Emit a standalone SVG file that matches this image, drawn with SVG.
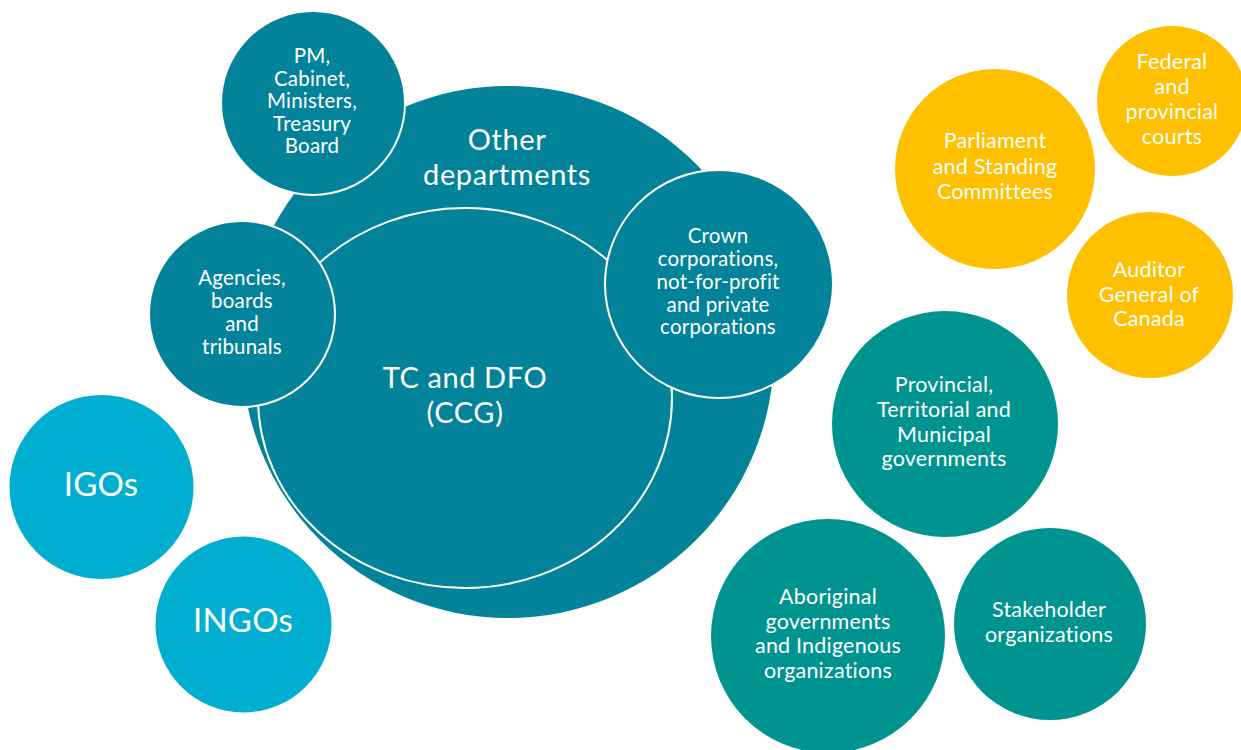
<svg xmlns="http://www.w3.org/2000/svg" width="1241" height="750" viewBox="0 0 1241 750">
<style>
.dk{fill:#03839A}
.gr{fill:#009491}
.yl{fill:#FFC000}
.lb{fill:#00AFCF}
.ws{stroke:#FFFFFF;stroke-width:2}
text{font-family:Lato,"Liberation Sans",sans-serif;fill:#FFFFFF;text-anchor:middle;letter-spacing:0.2px}
.s{font-size:20.5px}
.m{font-size:21.5px}
.l{font-size:29px;letter-spacing:0.6px}
.xl{font-size:33px}
</style>
<rect width="1241" height="750" fill="#FFFFFF"/>
<g id="other-departments">
<circle class="dk" cx="508" cy="352" r="266"/>
<text class="l" x="507" y="150">Other</text>
<text class="l" x="507" y="185">departments</text>
</g>
<g id="tc-dfo">
<ellipse class="dk ws" cx="465" cy="398" rx="207" ry="190"/>
<text class="l" x="465" y="388">TC and DFO</text>
<text class="l" x="465" y="423">(CCG)</text>
</g>
<g id="agencies">
<circle class="dk ws" cx="242" cy="314" r="93"/>
<text class="s" x="242" y="285">Agencies,</text>
<text class="s" x="242" y="308">boards</text>
<text class="s" x="242" y="331">and</text>
<text class="s" x="242" y="354">tribunals</text>
</g>
<g id="crown">
<circle class="dk ws" cx="719" cy="284" r="114"/>
<text class="s" x="718" y="243">Crown</text>
<text class="s" x="718" y="266">corporations,</text>
<text class="s" x="718" y="289">not-for-profit</text>
<text class="s" x="718" y="312">and private</text>
<text class="s" x="718" y="334">corporations</text>
</g>
<g id="pm">
<circle class="dk ws" cx="313" cy="103" r="92"/>
<text class="s" x="312" y="63">PM,</text>
<text class="s" x="312" y="86">Cabinet,</text>
<text class="s" x="312" y="108">Ministers,</text>
<text class="s" x="312" y="131">Treasury</text>
<text class="s" x="312" y="153">Board</text>
</g>
<g id="parliament">
<circle class="yl" cx="995" cy="169" r="100"/>
<text class="m" x="995" y="148">Parliament</text>
<text class="m" x="995" y="174">and Standing</text>
<text class="m" x="995" y="199">Committees</text>
</g>
<g id="courts">
<circle class="yl" cx="1172" cy="101" r="75"/>
<text class="m" x="1172" y="69">Federal</text>
<text class="m" x="1172" y="94">and</text>
<text class="m" x="1172" y="119">provincial</text>
<text class="m" x="1172" y="144">courts</text>
</g>
<g id="auditor">
<circle class="yl" cx="1150" cy="295" r="83"/>
<text class="m" x="1149" y="277">Auditor</text>
<text class="m" x="1149" y="302">General of</text>
<text class="m" x="1149" y="326">Canada</text>
</g>
<g id="provincial">
<circle class="gr" cx="945" cy="424" r="113"/>
<text class="m" x="944" y="392">Provincial,</text>
<text class="m" x="944" y="417">Territorial and</text>
<text class="m" x="944" y="442">Municipal</text>
<text class="m" x="944" y="466">governments</text>
</g>
<g id="aboriginal">
<circle class="gr" cx="828" cy="636" r="117"/>
<text class="m" x="828" y="604">Aboriginal</text>
<text class="m" x="828" y="629">governments</text>
<text class="m" x="828" y="653">and Indigenous</text>
<text class="m" x="828" y="678">organizations</text>
</g>
<g id="stakeholder">
<circle class="gr" cx="1050" cy="624" r="96"/>
<text class="m" x="1049" y="617">Stakeholder</text>
<text class="m" x="1049" y="642">organizations</text>
</g>
<g id="igos">
<circle class="lb" cx="101.5" cy="487" r="92"/>
<text class="xl" x="101" y="496">IGOs</text>
</g>
<g id="ingos">
<circle class="lb" cx="243.5" cy="624.5" r="88"/>
<text class="xl" x="243" y="632">INGOs</text>
</g>
</svg>
